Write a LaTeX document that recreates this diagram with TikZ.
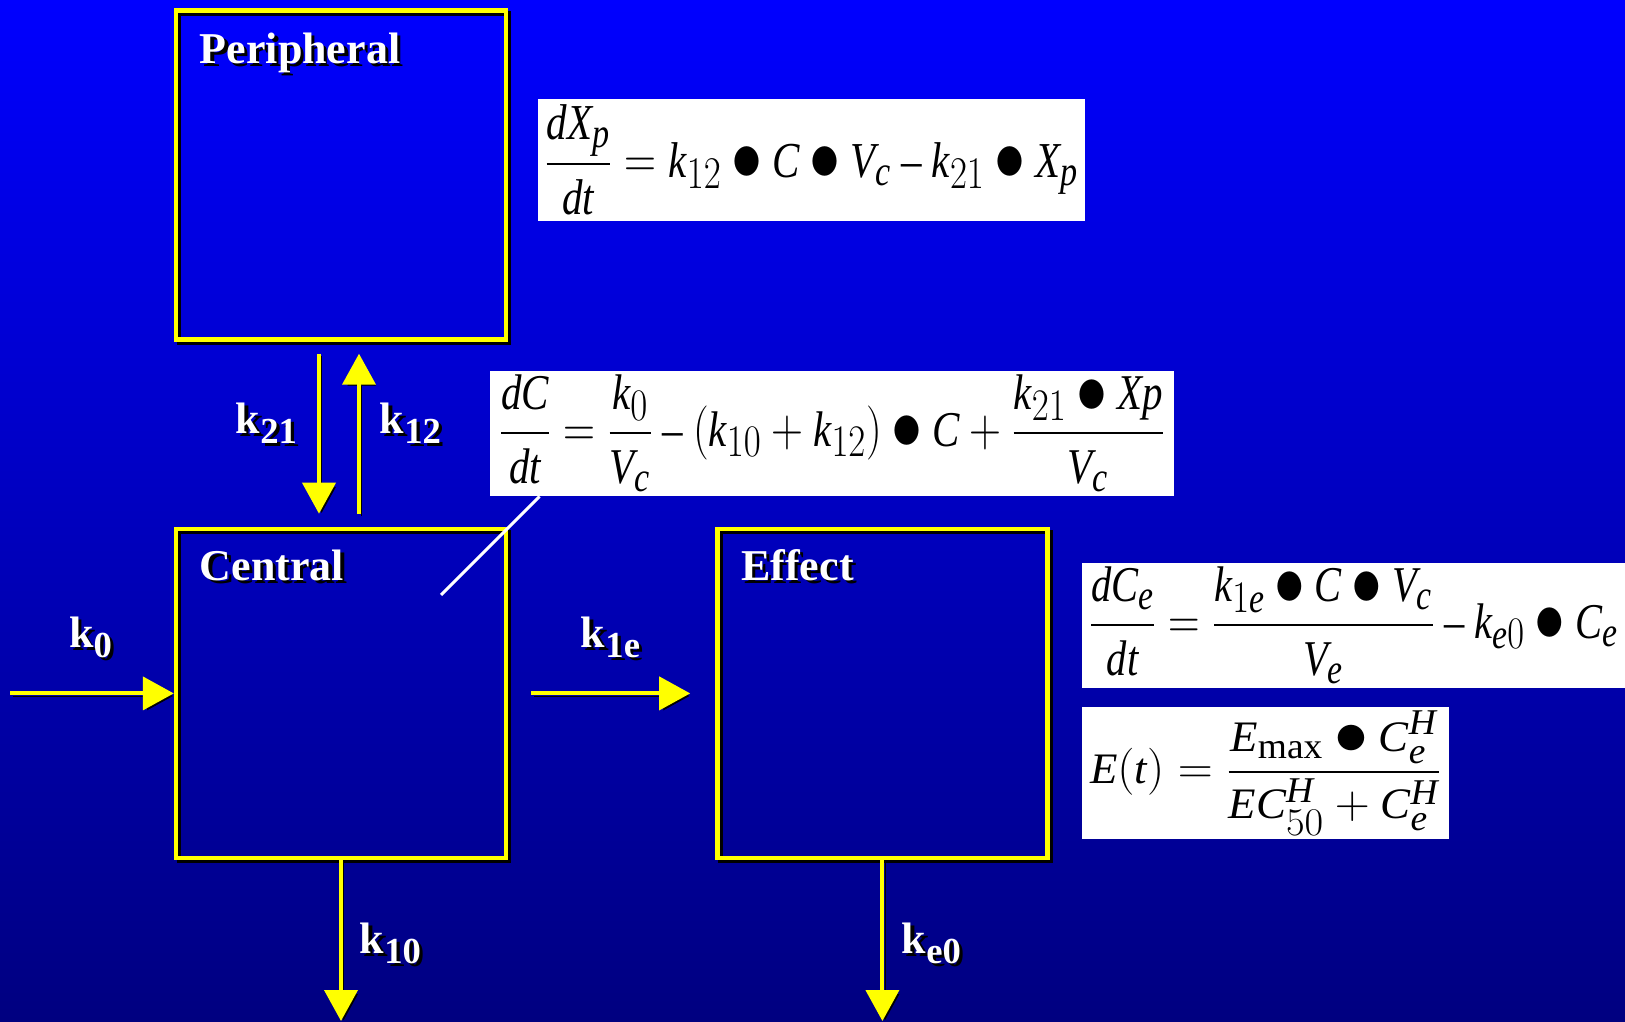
\documentclass[tikz,border=0pt]{standalone}
\usepackage{amsmath}
\usepackage{fontspec}
\setmainfont{Liberation Serif}
\usepackage[italic]{mathastext}
\definecolor{bgtop}{HTML}{0000FF}
\definecolor{bgbottom}{HTML}{000080}
\definecolor{boxline}{HTML}{FFFF00}
\usetikzlibrary{arrows.meta,positioning,shadows}
\newcommand{\shadowed}[1]{\rlap{\kern1.6pt\raisebox{-1.6pt}{\textcolor{black}{#1}}}#1}
\newcommand{\bdot}{\mathbin{\vcenter{\hbox{\scalebox{1.4}{$\bullet$}}}}}

\begin{document}
\begin{tikzpicture}[
    x=0.5pt, y=-0.5pt,
    every node/.style={font=\fontsize{22}{26}\selectfont},
    compartment/.style={rectangle, draw=boxline, line width=2.2pt, minimum width=165pt, minimum height=164.5pt,
      drop shadow={fill=none, draw=black, opacity=1, shadow xshift=1.5pt, shadow yshift=-1.5pt}},
    title/.style={anchor=base west, text=white, font=\fontsize{22}{26}\selectfont\bfseries},
    rate/.style={text=white, font=\fontsize{22}{26}\selectfont\bfseries},
    eqbox/.style={rectangle, fill=white, inner sep=0pt, font=\fontsize{23}{27}\selectfont},
    flow/.style={-{Triangle[length=15.5pt, width=16.5pt]}, boxline, line width=2pt,
      preaction={draw=black, transform canvas={shift={(1.3pt,-1.3pt)}}}},
    pointer/.style={white, line width=1.5pt}
    ]
    % background
    \shade[top color=bgtop, bottom color=bgbottom] (0,0) rectangle (1625,1021);
    \useasboundingbox (0,0) rectangle (1625,1021);

    % compartments
    \node[compartment] (peri) at (341,175) {};
    \node[compartment, below=92.5pt of peri] (cent) {};
    \node[compartment, right=103.5pt of cent] (eff) {};
    \node[title] (periT) at ([xshift=9.5pt, yshift=-27.5pt]peri.north west) {\shadowed{Peripheral}};
    \node[title] (centT) at ([xshift=9.5pt, yshift=-27pt]cent.north west) {\shadowed{Central}};
    \node[title] (effT) at ([xshift=9.5pt, yshift=-27pt]eff.north west) {\shadowed{Effect}};

    % free ends
    \coordinate (in0) at (10,0 |- cent.west);
    \coordinate (out10) at (cent.south |- 0,1021);
    \coordinate (oute0) at (eff.south |- 0,1021);
    \coordinate (tipC) at (441,595);

    % rate arrows
    \draw[flow, shorten <=6pt, shorten >=6.5pt] ([xshift=-11pt]peri.south) -- ([xshift=-11pt]cent.north);
    \draw[flow, shorten <=6.5pt, shorten >=6pt] ([xshift=9pt]cent.north) -- ([xshift=9pt]peri.south);
    \draw[flow] (in0) -- (cent.west);
    \draw[flow, shorten <=11.5pt, shorten >=12.5pt] (cent.east) -- (eff.west);
    \draw[flow] (cent.south) -- (out10);
    \draw[flow] (eff.south) -- (oute0);

    % rate labels
    \node[rate] (k21) at (267,425) {\shadowed{k\textsubscript{21}}};
    \node[rate] (k12) at (411,425) {\shadowed{k\textsubscript{12}}};
    \node[rate] (k0) at (91,639) {\shadowed{k\textsubscript{0}}};
    \node[rate] (k1e) at (611,639) {\shadowed{k\textsubscript{1e}}};
    \node[rate] (k10) at (391,945) {\shadowed{k\textsubscript{10}}};
    \node[rate] (ke0) at (932,945) {\shadowed{k\textsubscript{e0}}};

    % equations
    \node[eqbox, minimum width=273.5pt, minimum height=61pt] (eqP) at (811.5,160)
      {\resizebox*{267pt}{55.5pt}{$\dfrac{dX_{p}}{dt}=k_{12}\bdot C\bdot V_{c}-k_{21}\bdot X_{p}$}};
    \node[eqbox, minimum width=342pt, minimum height=62.5pt] (eqC) at (832,433.5)
      {\resizebox*{333pt}{58.5pt}{$\dfrac{dC}{dt}=\dfrac{k_{0}}{V_{c}}-(k_{10}+k_{12})\bdot C+\dfrac{k_{21}\bdot Xp}{V_{c}}$}};
    \node[eqbox, minimum width=271.5pt, minimum height=62.5pt] (eqE) at (1353.5,625.5)
      {\resizebox*{264.5pt}{58.5pt}{$\dfrac{dC_{e}}{dt}=\dfrac{k_{1e}\bdot C\bdot V_{c}}{V_{e}}-k_{e0}\bdot C_{e}$}};
    \node[eqbox, minimum width=183.5pt, minimum height=66pt] (eqH) at (1265.5,773)
      {\resizebox*{175.5pt}{62pt}{$E(t)=\dfrac{E_{\mathrm{max}}\bdot C_{e}^{H}}{EC_{50}^{H}+C_{e}^{H}}$}};
    \draw[pointer] (eqC.south west) ++(50,0) -- (tipC);
\end{tikzpicture}
\end{document}
